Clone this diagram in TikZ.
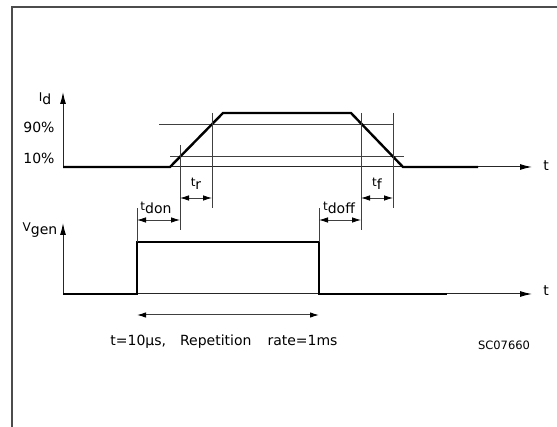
\documentclass[tikz,border=0pt]{standalone}
\usepackage{fontspec}
\setmainfont{DejaVu Sans}
\usetikzlibrary{arrows.meta}
\newcommand{\lowidx}[2]{{\fontsize{12}{13}\selectfont #1}\raisebox{-0.45ex}{#2}}
\tikzset{
  wave/.style={line width=2.4pt},
  guide/.style={black!75,line width=0.8pt},
  axis/.style={black!85,line width=1pt,-{Latex[length=12pt,width=6pt,color=black]}},
  dimarrow/.style={guide,{Latex[length=9pt,width=5.5pt,color=black]}-{Latex[length=9pt,width=5.5pt,color=black]}},
  lbl/.style={inner sep=0pt,font=\fontsize{14}{16}\selectfont}
}
\begin{document}
\begin{tikzpicture}[x=1pt,y=-1pt]
  \useasboundingbox (0,0) rectangle (557,427);
  \draw[black!70,line width=1.2pt] (12,427) -- (12,7) -- (557,7);
  % drain current
  \coordinate (oI) at (63,167);
  \draw[axis] (oI) -- (63,92);
  \draw[axis] (oI) -- (532,167);
  \node[lbl] (tI) at (546,166) {t};
  \node[lbl] (Id) at (45,99) {\lowidx{I}{d}};
  \node[lbl] (p90) at (39,127) {90\%};
  \node[lbl] (p10) at (39,158) {10\%};
  \draw[guide] (159,124) -- (393,124);
  \draw[guide] (170,156) -- (404,156);
  \draw[wave] (oI) -- (170,167) -- (223,113) -- (351,113) -- (403,167) -- (478,167);
  % marks on the ramps
  \coordinate (r10) at (180,156);
  \coordinate (r90) at (212,124);
  \coordinate (f90) at (361,124);
  \coordinate (f10) at (393,156);
  \coordinate (rowA) at (0,198);
  \coordinate (rowB) at (0,220);
  \draw[guide] (180,145) -- (180,230);
  \draw[guide] (212,113) -- (212,208);
  \draw[guide] (361,113) -- (361,230);
  \draw[guide] (393,113) -- (393,208);
  \draw[dimarrow] (r10 |- rowA) -- (r90 |- rowA);
  \draw[dimarrow] (f90 |- rowA) -- (f10 |- rowA);
  \node[lbl] (tr) at (196,184) {\lowidx{t}{r}};
  \node[lbl] (tf) at (377,184) {\lowidx{t}{f}};
  % gate pulse
  \coordinate (oV) at (63,294);
  \coordinate (von) at (137,242);
  \coordinate (voff) at (319,242);
  \draw[axis] (oV) -- (63,223);
  \draw[axis] (oV) -- (532,294);
  \node[lbl] (tV) at (546,291) {t};
  \node[lbl] (Vgen) at (40,230) {\lowidx{V}{gen}};
  \draw[wave] (oV) -- (von |- oV) -- (von) -- (voff) -- (voff |- oV) -- (447,294);
  \draw[guide] (von) -- (137,208);
  \draw[guide] (voff) -- (319,208);
  \draw[dimarrow] (von |- rowB) -- (r10 |- rowB);
  \draw[dimarrow] (voff |- rowB) -- (f90 |- rowB);
  \node[lbl] (tdon) at (156,208) {\lowidx{t}{don}};
  \node[lbl] (tdoff) at (339,208) {\lowidx{t}{doff}};
  % pulse width
  \coordinate (rowC) at (0,315);
  \draw[dimarrow,line width=1pt] (von |- rowC) -- (voff |- rowC);
  \node[lbl] (note) at (224,342) {t=10µs,\hspace{14pt}Repetition\hspace{16pt}rate=1ms};
  \node[inner sep=0pt,font=\fontsize{11.5}{13}\selectfont] (code) at (504,345) {SC07660};
\end{tikzpicture}
\end{document}
